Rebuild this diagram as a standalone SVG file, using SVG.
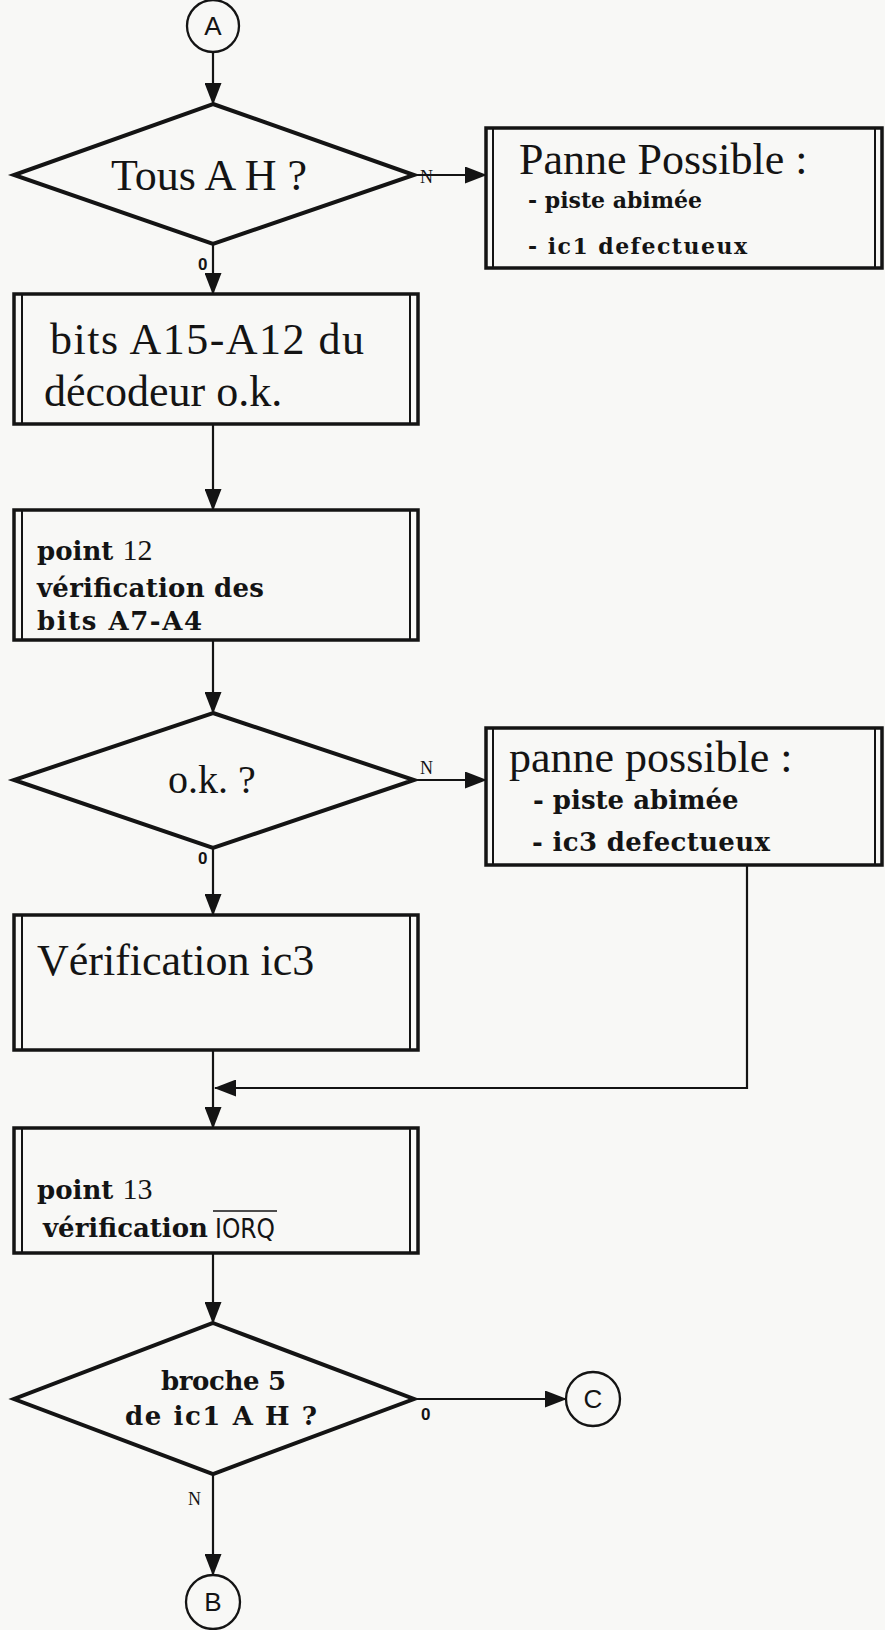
<svg xmlns="http://www.w3.org/2000/svg" width="885" height="1630" viewBox="0 0 885 1630">
<style>
.bg{fill:#f8f8f6}
.box{fill:none;stroke:#141414;stroke-width:3.5}
.inner{stroke:#141414;stroke-width:2}
.dia{fill:none;stroke:#141414;stroke-width:4}
.circ{fill:none;stroke:#141414;stroke-width:2.3}
.con{fill:none;stroke:#141414;stroke-width:2.2}
.big{font-family:"Liberation Serif","Times New Roman",serif;font-size:44px;fill:#141414}
.med{font-family:"Liberation Serif","Times New Roman",serif;font-size:40px;fill:#141414}
.sb{font-family:"DejaVu Serif","Liberation Serif",serif;font-size:26px;font-weight:bold;fill:#141414}
.sb2{font-family:"DejaVu Serif","Liberation Serif",serif;font-size:22px;font-weight:bold;fill:#141414}
.num{font-family:"Liberation Serif","Times New Roman",serif;font-size:30px;font-weight:normal;fill:#141414}
.lbl{font-family:"Liberation Serif","Times New Roman",serif;font-size:18px;fill:#141414}
.lblb{font-family:"Liberation Sans",Arial,sans-serif;font-size:17px;font-weight:bold;fill:#141414}
.con-t{font-family:"Liberation Sans",Arial,sans-serif;font-size:26px;fill:#141414}
.sig{font-family:"Liberation Sans Narrow","DejaVu Sans Condensed",sans-serif;font-size:27px;fill:#141414}
</style>
<defs>
<marker id="ah" markerUnits="userSpaceOnUse" markerWidth="22" markerHeight="17" refX="21" refY="8.5" orient="auto">
<path d="M0,0 L22,8.5 L0,17 z" fill="#141414"/>
</marker>
</defs>
<rect class="bg" x="0" y="0" width="885" height="1630"/>

<g id="connectors">
<line class="con" x1="213" y1="52" x2="213" y2="104" marker-end="url(#ah)"/>
<line class="con" x1="414" y1="175" x2="486" y2="175" marker-end="url(#ah)"/>
<line class="con" x1="213" y1="244" x2="213" y2="294" marker-end="url(#ah)"/>
<line class="con" x1="213" y1="424" x2="213" y2="510" marker-end="url(#ah)"/>
<line class="con" x1="213" y1="640" x2="213" y2="713" marker-end="url(#ah)"/>
<line class="con" x1="414" y1="780" x2="486" y2="780" marker-end="url(#ah)"/>
<line class="con" x1="213" y1="848" x2="213" y2="915" marker-end="url(#ah)"/>
<line class="con" x1="213" y1="1050" x2="213" y2="1128" marker-end="url(#ah)"/>
<polyline class="con" points="747,865 747,1088 215,1088" marker-end="url(#ah)"/>
<line class="con" x1="213" y1="1253" x2="213" y2="1323" marker-end="url(#ah)"/>
<line class="con" x1="414" y1="1399" x2="566" y2="1399" marker-end="url(#ah)"/>
<line class="con" x1="213" y1="1474" x2="213" y2="1575" marker-end="url(#ah)"/>
<text class="lbl" x="420" y="183">N</text>
<text class="lblb" x="198" y="270">0</text>
<text class="lbl" x="420" y="774">N</text>
<text class="lblb" x="198" y="864">0</text>
<text class="lblb" x="421" y="1420">0</text>
<text class="lbl" x="188" y="1505">N</text>
</g>

<g id="start-A">
<circle class="circ" cx="213" cy="26" r="26"/>
<text class="con-t" x="213" y="35" text-anchor="middle">A</text>
</g>

<g id="dec-tous">
<polygon class="dia" points="213,104 414,175 213,244 14,175"/>
<text class="big" x="111" y="190">Tous A H ?</text>
</g>

<g id="panne1">
<rect class="box" x="486" y="128" width="396" height="140"/>
<line class="inner" x1="493" y1="128" x2="493" y2="268"/>
<line class="inner" x1="875" y1="128" x2="875" y2="268"/>
<text class="big" x="519" y="174">Panne Possible :</text>
<text class="sb2" x="528" y="208">- piste abimée</text>
<text class="sb2" x="528" y="254" textLength="219">-  ic1 defectueux</text>
</g>

<g id="box-bits">
<rect class="box" x="14" y="294" width="404" height="130"/>
<line class="inner" x1="22" y1="294" x2="22" y2="424"/>
<line class="inner" x1="410" y1="294" x2="410" y2="424"/>
<text class="big" x="50" y="354" textLength="314">bits A15-A12 du</text>
<text class="big" x="44" y="406">décodeur o.k.</text>
</g>

<g id="box-point12">
<rect class="box" x="14" y="510" width="404" height="130"/>
<line class="inner" x1="22" y1="510" x2="22" y2="640"/>
<line class="inner" x1="410" y1="510" x2="410" y2="640"/>
<text class="sb" x="37" y="560">point <tspan class="num">12</tspan></text>
<text class="sb" x="37" y="597" textLength="227">vérification des</text>
<text class="sb" x="37" y="630" textLength="165">bits A7-A4</text>
</g>

<g id="dec-ok">
<polygon class="dia" points="213,713 414,780 213,848 14,780"/>
<text class="med" x="212" y="793" text-anchor="middle">o.k. ?</text>
</g>

<g id="panne2">
<rect class="box" x="486" y="728" width="396" height="137"/>
<line class="inner" x1="493" y1="728" x2="493" y2="865"/>
<line class="inner" x1="875" y1="728" x2="875" y2="865"/>
<text class="big" x="509" y="772">panne possible :</text>
<text class="sb" x="533" y="809">- piste abimée</text>
<text class="sb" x="532" y="851" textLength="238">-  ic3 defectueux</text>
</g>

<g id="box-ic3">
<rect class="box" x="14" y="915" width="404" height="135"/>
<line class="inner" x1="22" y1="915" x2="22" y2="1050"/>
<line class="inner" x1="410" y1="915" x2="410" y2="1050"/>
<text class="big" x="37" y="975">Vérification ic3</text>
</g>

<g id="box-point13">
<rect class="box" x="14" y="1128" width="404" height="125"/>
<line class="inner" x1="22" y1="1128" x2="22" y2="1253"/>
<line class="inner" x1="410" y1="1128" x2="410" y2="1253"/>
<text class="sb" x="37" y="1199">point <tspan class="num">13</tspan></text>
<text class="sb" x="43" y="1237" textLength="165">vérification</text>
<text class="sig" x="215" y="1238" textLength="60" lengthAdjust="spacingAndGlyphs">IORQ</text>
<line x1="213" y1="1211" x2="277" y2="1211" stroke="#141414" stroke-width="1.6"/>
</g>

<g id="dec-broche">
<polygon class="dia" points="213,1323 414,1399 213,1474 14,1399"/>
<text class="sb" x="161" y="1390" textLength="125">broche 5</text>
<text class="sb" x="125" y="1425" textLength="192">de ic1 A H ?</text>
</g>

<g id="conn-C">
<circle class="circ" cx="593" cy="1399" r="27"/>
<text class="con-t" x="593" y="1408" text-anchor="middle">C</text>
</g>

<g id="conn-B">
<circle class="circ" cx="213" cy="1602" r="27"/>
<text class="con-t" x="213" y="1611" text-anchor="middle">B</text>
</g>
</svg>
